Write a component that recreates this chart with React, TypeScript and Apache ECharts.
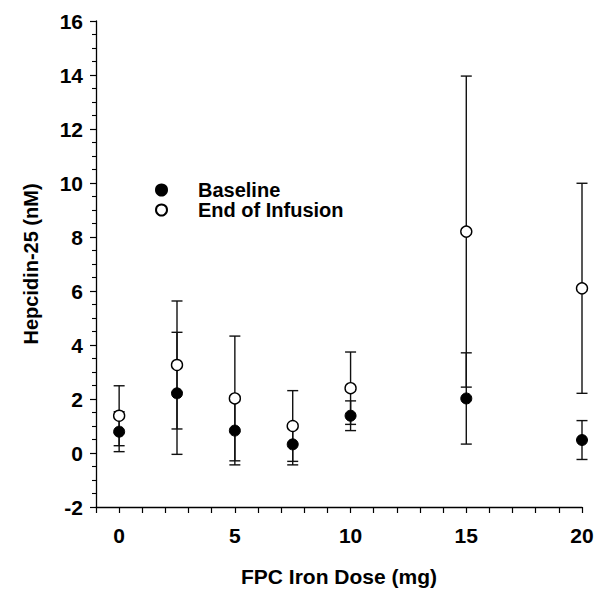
import React, { useEffect, useRef } from "react";
import * as echarts from "echarts";

const doses = [0, 2.5, 5, 7.5, 10, 15, 20];
const baselineMean = [0.79, 2.21, 0.83, 0.32, 1.38, 2.02, 0.48];
const baselineSD = [0.74, 2.26, 1.27, 0.76, 0.55, 1.69, 0.72];
const infusionMean = [1.38, 3.26, 2.02, 1.0, 2.4, 8.2, 6.1];
const infusionSD = [1.11, 2.37, 2.31, 1.31, 1.34, 5.76, 3.89];
const xTickLabels = ["0", "5", "10", "15", "20"];

const FONT = "'Liberation Sans', Arial, sans-serif";

function errorData(means: number[], sds: number[]) {
  return doses.map((d, i) => [d, means[i] - sds[i], means[i] + sds[i]]);
}

function renderErrorBar(params: any, api: any) {
  const x = api.value(0);
  const lo = api.coord([x, api.value(1)]);
  const hi = api.coord([x, api.value(2)]);
  const cap = 5.5;
  const style = { stroke: "#111", lineWidth: 1.4 };
  return {
    type: "group",
    children: [
      { type: "line", shape: { x1: lo[0], y1: lo[1], x2: hi[0], y2: hi[1] }, style },
      { type: "line", shape: { x1: hi[0] - cap, y1: hi[1], x2: hi[0] + cap, y2: hi[1] }, style },
      { type: "line", shape: { x1: lo[0] - cap, y1: lo[1], x2: lo[0] + cap, y2: lo[1] }, style },
    ],
  };
}

export default function App() {
  const ref = useRef<HTMLDivElement>(null);
  useEffect(() => {
    document.body.style.margin = "0";
    const chart = echarts.init(ref.current!, null, { renderer: "svg" });
    chart.setOption({
      animation: false,
      backgroundColor: "#fff",
      textStyle: { fontFamily: FONT },
      grid: { left: 96, right: 22, top: 21, bottom: 88, outerBoundsMode: "none" },
      legend: {
        data: ["Baseline", "End of Infusion"],
        orient: "vertical",
        left: 150,
        top: 175,
        itemGap: 0,
        itemWidth: 11,
        itemHeight: 11,
        textStyle: { fontFamily: FONT, fontWeight: "bold", fontSize: 20, color: "#000", padding: [0, 0, 0, 26] },
      },
      xAxis: {
        type: "value",
        min: -1,
        max: 20,
        interval: 1,
        name: "FPC Iron Dose (mg)",
        nameLocation: "middle",
        nameGap: 59,
        nameTextStyle: { fontFamily: FONT, fontWeight: "bold", fontSize: 21, color: "#000" },
        axisLine: { show: true, onZero: false, lineStyle: { color: "#000", width: 1.3 } },
        axisTick: { show: true, inside: false, length: 6, lineStyle: { color: "#000", width: 1.2 } },
        axisLabel: {
          margin: 18,
          fontFamily: FONT,
          fontWeight: "bold",
          fontSize: 21,
          color: "#000",
          formatter: (v: number) => (xTickLabels.includes(String(v)) ? String(v) : ""),
        },
        splitLine: { show: false },
      },
      yAxis: {
        type: "value",
        min: -2,
        max: 16,
        interval: 2,
        name: "Hepcidin-25 (nM)",
        nameLocation: "middle",
        nameGap: 55,
        nameTextStyle: { fontFamily: FONT, fontWeight: "bold", fontSize: 20, color: "#000" },
        axisLine: { show: true, onZero: false, lineStyle: { color: "#000", width: 1.3 } },
        axisTick: { show: true, inside: false, length: 6, lineStyle: { color: "#000", width: 1.2 } },
        minorTick: { show: true, splitNumber: 4, length: 4, lineStyle: { color: "#000", width: 1.1 } },
        axisLabel: { margin: 13, fontFamily: FONT, fontWeight: "bold", fontSize: 21, color: "#000" },
        splitLine: { show: false },
        minorSplitLine: { show: false },
      },
      series: [
        {
          name: "Baseline err",
          type: "custom",
          renderItem: renderErrorBar,
          data: errorData(baselineMean, baselineSD),
          encode: { x: 0, y: [1, 2] },
          z: 1,
          silent: true,
        },
        {
          name: "Infusion err",
          type: "custom",
          renderItem: renderErrorBar,
          data: errorData(infusionMean, infusionSD),
          encode: { x: 0, y: [1, 2] },
          z: 1,
          silent: true,
        },
        {
          name: "Baseline",
          type: "scatter",
          symbol: "circle",
          symbolSize: 11,
          data: doses.map((d, i) => [d, baselineMean[i]]),
          itemStyle: { color: "#000", borderColor: "#000", borderWidth: 1, opacity: 1 },
          z: 3,
        },
        {
          name: "End of Infusion",
          type: "scatter",
          symbol: "circle",
          symbolSize: 11,
          data: doses.map((d, i) => [d, infusionMean[i]]),
          itemStyle: { color: "#fff", borderColor: "#000", borderWidth: 1.4, opacity: 1 },
          z: 4,
        },
      ],
    });
    return () => chart.dispose();
  }, []);
  return <div ref={ref} style={{ width: 604, height: 595 }} />;
}
